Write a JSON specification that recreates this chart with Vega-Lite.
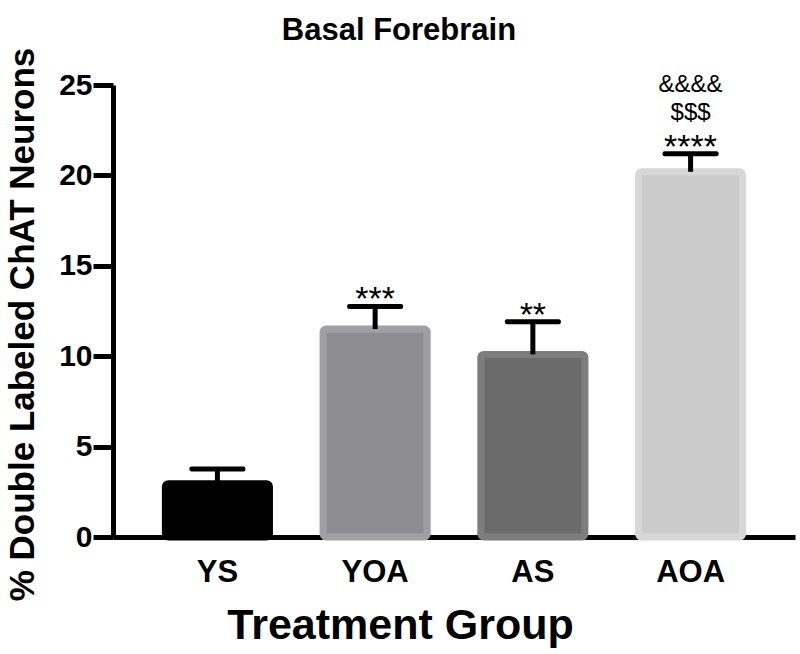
{
  "$schema": "https://vega.github.io/schema/vega-lite/v6.json",
  "autosize": "none",
  "width": 682,
  "height": 452,
  "padding": {"left": 113, "top": 85, "right": 5, "bottom": 117},
  "background": "white",
  "config": {
    "view": {"stroke": null},
    "font": "Liberation Sans"
  },
  "title": {
    "text": "Basal Forebrain",
    "fontSize": 31,
    "fontWeight": "bold",
    "font": "Liberation Sans",
    "color": "black",
    "anchor": "middle",
    "dx": -55,
    "offset": 30,
    "dy": 30
  },
  "data": {
    "values": [
      {"group": "YS", "value": 2.95, "upper": 3.76, "stars": "", "dollars": "", "amps": ""},
      {"group": "YOA", "value": 11.5, "upper": 12.75, "stars": "***", "dollars": "", "amps": ""},
      {"group": "AS", "value": 10.1, "upper": 11.9, "stars": "**", "dollars": "", "amps": ""},
      {"group": "AOA", "value": 20.2, "upper": 21.2, "stars": "****", "dollars": "$$$", "amps": "&&&&"}
    ]
  },
  "encoding": {
    "x": {
      "field": "group",
      "type": "nominal",
      "sort": ["YS", "YOA", "AS", "AOA"],
      "scale": {"paddingInner": 0.34, "paddingOuter": 0.332},
      "axis": {
        "title": "Treatment Group",
        "titleFont": "Liberation Sans",
        "titleFontSize": 43,
        "titleFontWeight": "bold",
        "titleColor": "black",
        "titleX": 287,
        "titleY": 101,
        "titleAlign": "center",
        "titleBaseline": "alphabetic",
        "labelAngle": 0,
        "labelFont": "Liberation Sans",
        "labelFontSize": 31,
        "labelFontWeight": "bold",
        "labelColor": "black",
        "labelPadding": 20,
        "ticks": false,
        "domainColor": "black",
        "domainWidth": 5
      }
    }
  },
  "layer": [
    {
      "mark": {"type": "bar", "strokeWidth": 7, "cornerRadius": 3},
      "encoding": {
        "y": {
          "field": "value",
          "type": "quantitative",
          "scale": {"domain": [0, 25], "nice": false},
          "axis": {
            "title": "% Double Labeled ChAT Neurons",
            "titleFont": "Liberation Sans",
            "titleFontSize": 35,
            "titleFontWeight": "bold",
            "titleColor": "black",
            "titleX": -91,
            "titleY": 239,
            "titleAngle": -90,
            "titleAlign": "center",
            "titleBaseline": "middle",
            "values": [0, 5, 10, 15, 20, 25],
            "labelFont": "Liberation Sans",
            "labelFontSize": 30,
            "labelFontWeight": "bold",
            "labelColor": "black",
            "labelPadding": 1,
            "tickSize": 20,
            "tickWidth": 5,
            "tickColor": "black",
            "domainColor": "black",
            "domainWidth": 5,
            "grid": false
          }
        },
        "fill": {
          "field": "group",
          "type": "nominal",
          "scale": {"domain": ["YS", "YOA", "AS", "AOA"], "range": ["#000000", "#8d8c91", "#6b6b6b", "#cbcbcb"]},
          "legend": null
        },
        "stroke": {
          "field": "group",
          "type": "nominal",
          "scale": {"domain": ["YS", "YOA", "AS", "AOA"], "range": ["#000000", "#a09fa3", "#7d7d7d", "#d7d7d7"]},
          "legend": null
        }
      }
    },
    {
      "mark": {"type": "rule", "strokeWidth": 5, "color": "black"},
      "encoding": {
        "y": {"field": "value", "type": "quantitative"},
        "y2": {"field": "upper"}
      }
    },
    {
      "mark": {"type": "tick", "orient": "horizontal", "size": 56, "thickness": 5, "color": "black", "cornerRadius": 2, "opacity": 1},
      "encoding": {
        "y": {"field": "upper", "type": "quantitative"}
      }
    },
    {
      "mark": {"type": "text", "fontSize": 34, "baseline": "alphabetic", "dy": 4, "color": "black", "font": "Liberation Sans"},
      "encoding": {
        "y": {"field": "upper", "type": "quantitative"},
        "text": {"field": "stars"}
      }
    },
    {
      "mark": {"type": "text", "fontSize": 24, "baseline": "alphabetic", "dy": -34, "color": "black", "font": "Liberation Sans"},
      "encoding": {
        "y": {"field": "upper", "type": "quantitative"},
        "text": {"field": "dollars"}
      }
    },
    {
      "mark": {"type": "text", "fontSize": 24, "baseline": "alphabetic", "dy": -62, "color": "black", "font": "Liberation Sans"},
      "encoding": {
        "y": {"field": "upper", "type": "quantitative"},
        "text": {"field": "amps"}
      }
    }
  ]
}
